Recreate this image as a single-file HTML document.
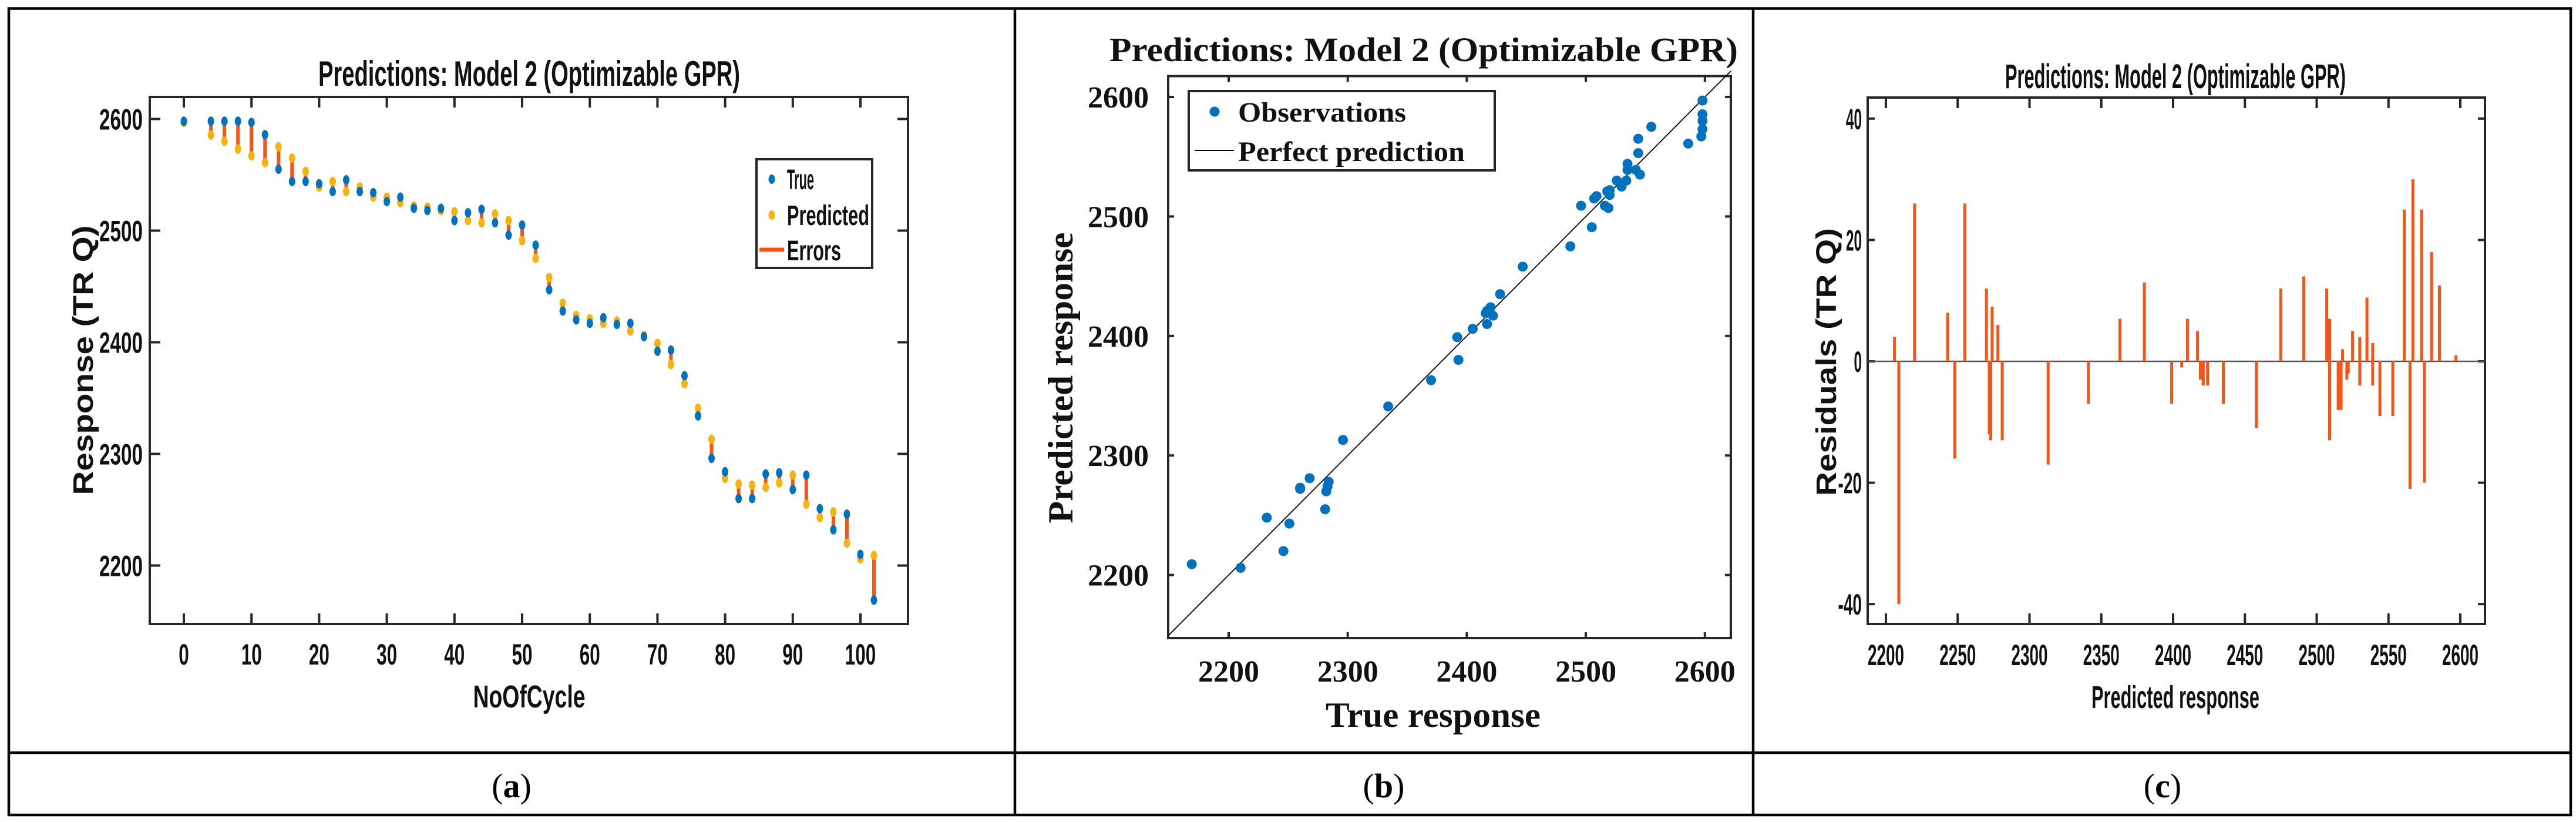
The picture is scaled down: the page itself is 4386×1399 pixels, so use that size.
<!DOCTYPE html>
<html><head><meta charset="utf-8">
<style>
html,body{margin:0;padding:0;background:#fff;}
svg{display:block;}
.nar{font-family:"Liberation Sans Narrow","Liberation Sans",sans-serif;font-weight:bold;fill:#111;}
.sans{font-family:"Liberation Sans",sans-serif;font-weight:bold;fill:#111;}
.ser{font-family:"Liberation Serif",serif;font-weight:bold;fill:#111;}
</style></head>
<body>
<svg id="fig" width="4386" height="1399" viewBox="0 0 4386 1399" xmlns="http://www.w3.org/2000/svg">
  <g stroke="#000" stroke-width="4.5" fill="none">
    <rect x="15" y="14.5" width="4362" height="1372.5"/>
    <line x1="15" y1="1281" x2="4377" y2="1281"/>
    <line x1="1728" y1="14.5" x2="1728" y2="1387"/>
    <line x1="2985" y1="14.5" x2="2985" y2="1387"/>
  </g>
  <text x="871" y="1357" text-anchor="middle" font-family="Liberation Serif, serif" font-size="58">(<tspan font-weight="bold">a</tspan>)</text>
  <text x="2356" y="1357" text-anchor="middle" font-family="Liberation Serif, serif" font-size="58">(<tspan font-weight="bold">b</tspan>)</text>
  <text x="3682" y="1357" text-anchor="middle" font-family="Liberation Serif, serif" font-size="58">(<tspan font-weight="bold">c</tspan>)</text>

  <g id="pa">
    <text class="nar" x="901" y="146" text-anchor="middle" font-size="60" textLength="718" lengthAdjust="spacingAndGlyphs">Predictions: Model 2 (Optimizable GPR)</text>
    <text class="nar" x="901" y="1204" text-anchor="middle" font-size="54" textLength="191" lengthAdjust="spacingAndGlyphs">NoOfCycle</text>
    <text class="sans" transform="translate(158,613) rotate(-90)" text-anchor="middle" font-size="48" textLength="459" lengthAdjust="spacingAndGlyphs">Response (TR Q)</text>
  </g>
  <g id="pb">
    <text class="ser" x="2424" y="104" text-anchor="middle" font-size="58" textLength="1070" lengthAdjust="spacingAndGlyphs">Predictions: Model 2 (Optimizable GPR)</text>
    <text class="ser" x="2440" y="1237" text-anchor="middle" font-size="60" textLength="366" lengthAdjust="spacingAndGlyphs">True response</text>
    <text class="ser" transform="translate(1826,643) rotate(-90)" text-anchor="middle" font-size="60" textLength="495" lengthAdjust="spacingAndGlyphs">Predicted response</text>
  </g>
  <g id="pc">
    <text class="nar" x="3704" y="150" text-anchor="middle" font-size="58" textLength="580" lengthAdjust="spacingAndGlyphs">Predictions: Model 2 (Optimizable GPR)</text>
    <text class="nar" x="3704" y="1205" text-anchor="middle" font-size="54" textLength="286" lengthAdjust="spacingAndGlyphs">Predicted response</text>
    <text class="sans" transform="translate(3126,616) rotate(-90)" text-anchor="middle" font-size="48" textLength="456" lengthAdjust="spacingAndGlyphs">Residuals (TR Q)</text>
  </g>
</svg>
<script>
const cycles = [0,4,6,8,10,12,14,16,18,20,22,24,26,28,30,32,34,36,38,40,42,44,46,48,50,52,54,56,58,60,62,64,66,68,70,72,74,76,78,80,82,84,86,88,90,92,94,96,98,100,102];
const trueVals = [2598,2598,2598,2598,2597,2586,2555,2544,2544,2542,2535,2545.5,2535,2534,2526,2530,2520,2518,2520,2509,2516,2519,2507,2496,2505,2487,2447,2428,2420,2417,2422,2416,2417,2405,2392,2393,2370,2334,2296,2284,2260,2260,2282,2283,2268,2281,2251,2232,2246,2210,2169];
const predVals = [2597,2585.5,2580,2573,2567,2561,2575,2565,2553,2539,2544,2535,2539,2530,2530,2525,2522,2521,2518,2517,2509,2507,2515,2509,2491,2475,2458,2435,2424,2421,2417,2419,2410,2406,2399,2380,2363,2341,2313,2278,2273,2272,2270,2274,2281,2255,2243,2248,2220,2206,2209];
const xTicksA = [0,10,20,30,40,50,60,70,80,90,100];
const yTicksA = [2200,2300,2400,2500,2600];
const ticksB = [2200,2300,2400,2500,2600];
const xTicksC = [2200,2250,2300,2350,2400,2450,2500,2550,2600];
const yTicksC = [-40,-20,0,20,40];

const NS = "http://www.w3.org/2000/svg";
function mk(tag, attrs, parent){ const e=document.createElementNS(NS,tag); for(const k in attrs) e.setAttribute(k,attrs[k]); parent.appendChild(e); return e; }
const BLUE="#0072BD", YEL="#F5B312", RED="#F55414", AX="#262626";

const pa=document.getElementById('pa');
const xa=v=>313+v*11.52, ya=v=>202.5+(2600-v)*1.9;
const A={l:255,r:1546,t:165,b:1062};
let bx=mk('rect',{x:A.l,y:A.t,width:A.r-A.l,height:A.b-A.t,fill:'none',stroke:AX,'stroke-width':4},pa);


xTicksA.forEach(t=>{
  const x=xa(t);
  mk('line',{x1:x,y1:A.b,x2:x,y2:A.b-18,stroke:AX,'stroke-width':4},pa);
  mk('line',{x1:x,y1:A.t,x2:x,y2:A.t+18,stroke:AX,'stroke-width':4},pa);
  const s=String(t);
  const tx=mk('text',{x:x,y:1131,'text-anchor':'middle','font-size':50,class:'nar',textLength:17.5*s.length,lengthAdjust:'spacingAndGlyphs'},pa);
  tx.textContent=s;
  
  
});
yTicksA.forEach(t=>{
  const y=ya(t);
  mk('line',{x1:A.l,y1:y,x2:A.l+18,y2:y,stroke:AX,'stroke-width':4},pa);
  mk('line',{x1:A.r,y1:y,x2:A.r-18,y2:y,stroke:AX,'stroke-width':4},pa);
  const tx=mk('text',{x:243,y:y+18,'text-anchor':'end','font-size':50,class:'nar',textLength:74,lengthAdjust:'spacingAndGlyphs'},pa);
  tx.textContent=t;
  
  
});
cycles.forEach((c,i)=>{
  const x=xa(c);
  const ln=mk('line',{x1:x,y1:ya(trueVals[i]),x2:x,y2:ya(predVals[i]),stroke:RED,'stroke-width':6},pa);
  
  
});
cycles.forEach((c,i)=>{
  const p=mk('ellipse',{cx:xa(c),cy:ya(predVals[i]),rx:5.5,ry:8,fill:YEL},pa);
  
  
  const t=mk('ellipse',{cx:xa(c),cy:ya(trueVals[i]),rx:5.5,ry:8,fill:BLUE},pa);
  
  
});
const lgA=mk('g',{},pa);


mk('rect',{x:1288,y:271,width:197,height:185,fill:'#fff',stroke:AX,'stroke-width':4},lgA);
mk('ellipse',{cx:1314,cy:305,rx:5.5,ry:8,fill:BLUE},lgA);
mk('ellipse',{cx:1314,cy:366,rx:5.5,ry:8,fill:YEL},lgA);
mk('line',{x1:1293,y1:425,x2:1335,y2:425,stroke:RED,'stroke-width':7},lgA);
[['True',322,46],['Predicted',383,140],['Errors',443,92]].forEach(([s,y,w])=>{
  const t=mk('text',{x:1340,y:y,'font-size':48,class:'nar',textLength:w,lengthAdjust:'spacingAndGlyphs'},lgA);
  t.textContent=s;
  
  
});

const pb=document.getElementById('pb');
const xb=v=>2092+(v-2200)*2.027, yb=v=>978.6-(v-2200)*2.034;
const B={l:1989,r:2947,t:129.5,b:1086};
bx=mk('rect',{x:B.l,y:B.t,width:B.r-B.l,height:B.b-B.t,fill:'none',stroke:AX,'stroke-width':4},pb);


ticksB.forEach(t=>{
  const x=xb(t), y=yb(t);
  mk('line',{x1:x,y1:B.b,x2:x,y2:B.b-10,stroke:AX,'stroke-width':4},pb);
  mk('line',{x1:x,y1:B.t,x2:x,y2:B.t+10,stroke:AX,'stroke-width':4},pb);
  mk('line',{x1:B.l,y1:y,x2:B.l+10,y2:y,stroke:AX,'stroke-width':4},pb);
  mk('line',{x1:B.r,y1:y,x2:B.r-10,y2:y,stroke:AX,'stroke-width':4},pb);
  const tx=mk('text',{x:x,y:1160,'text-anchor':'middle','font-size':52,class:'ser'},pb);
  tx.textContent=t;
  
  
  const ty=mk('text',{x:1956,y:y+18,'text-anchor':'end','font-size':52,class:'ser'},pb);
  ty.textContent=t;
  
  
});
const perf=mk('line',{x1:B.l,y1:yb(2149.2),x2:B.r,y2:yb(2621.7),stroke:'#000','stroke-width':1.8},pb);


trueVals.forEach((v,i)=>{
  const d=mk('circle',{cx:xb(v),cy:yb(predVals[i]),r:8.5,fill:BLUE},pb);
  
  
});
const lgB=mk('g',{},pb);


mk('rect',{x:2024,y:155,width:521,height:135,fill:'#fff',stroke:AX,'stroke-width':4},lgB);
mk('circle',{cx:2068,cy:190,r:8.5,fill:BLUE},lgB);
mk('line',{x1:2034,y1:256,x2:2101,y2:256,stroke:'#000','stroke-width':2},lgB);
[['Observations',207,286],['Perfect prediction',274,386]].forEach(([s,y,w])=>{
  const t=mk('text',{x:2108,y:y,'font-size':48,class:'ser',textLength:w,lengthAdjust:'spacingAndGlyphs'},lgB);
  t.textContent=s;
  
  
});

const pc=document.getElementById('pc');
const xc=v=>3211+(v-2200)*2.445, yc=r=>615-r*10.33;
const C={l:3180,r:4231,t:166,b:1062};
bx=mk('rect',{x:C.l,y:C.t,width:C.r-C.l,height:C.b-C.t,fill:'none',stroke:AX,'stroke-width':4},pc);


xTicksC.forEach(t=>{
  const x=xc(t);
  mk('line',{x1:x,y1:C.b,x2:x,y2:C.b-18,stroke:AX,'stroke-width':4},pc);
  mk('line',{x1:x,y1:C.t,x2:x,y2:C.t+18,stroke:AX,'stroke-width':4},pc);
  const tx=mk('text',{x:x,y:1132,'text-anchor':'middle','font-size':50,class:'nar',textLength:62,lengthAdjust:'spacingAndGlyphs'},pc);
  tx.textContent=t;
  
  
});
yTicksC.forEach(t=>{
  const y=yc(t);
  mk('line',{x1:C.l,y1:y,x2:C.l+12,y2:y,stroke:AX,'stroke-width':4},pc);
  mk('line',{x1:C.r,y1:y,x2:C.r-12,y2:y,stroke:AX,'stroke-width':4},pc);
  const s=String(t);
  const tx=mk('text',{x:3170,y:y+18,'text-anchor':'end','font-size':50,class:'nar',textLength:13.5*s.length,lengthAdjust:'spacingAndGlyphs'},pc);
  tx.textContent=s;
  
  
});
const zl=mk('line',{x1:C.l,y1:yc(0),x2:C.r,y2:yc(0),stroke:'#555','stroke-width':2.5},pc);


predVals.forEach((p,i)=>{
  const r=trueVals[i]-p;
  const y0=yc(0), y1=yc(r);
  const b=mk('rect',{x:xc(p)-2.5,y:Math.min(y0,y1),width:5,height:Math.max(1.5,Math.abs(y1-y0)),fill:RED},pc);
  
  
});
</script>
</body></html>
